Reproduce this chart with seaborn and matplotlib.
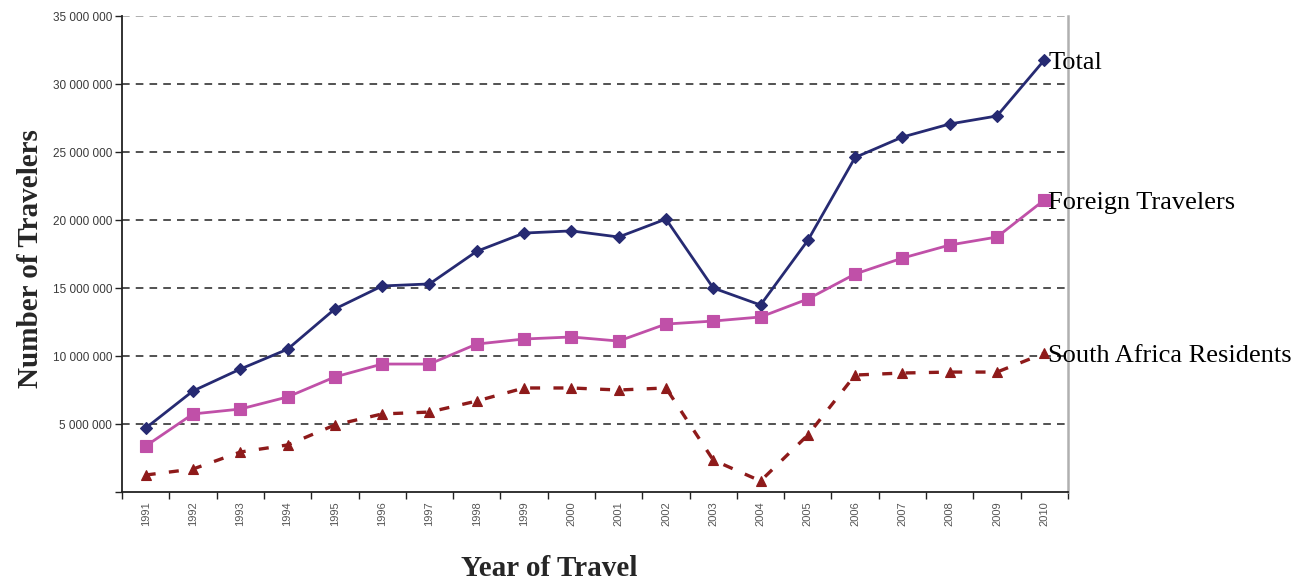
import matplotlib
matplotlib.use("Agg")
import matplotlib.pyplot as plt
import numpy as np
import pandas as pd
import seaborn as sns

years = [str(y) for y in range(1991, 2011)]
year_labels = ["1991", "1992", "1993", "1994", "1995", "1996", "1997", "1998", "1999", "2000",
               "2001", "2002", "2003", "2004", "2005", "2006", "2007", "2008", "2009", "2010"]

total = [4.70, 7.43, 9.04, 10.50, 13.46, 15.15, 15.30, 17.70, 19.04, 19.20,
         18.75, 20.07, 15.00, 13.75, 18.50, 24.60, 26.10, 27.06, 27.65, 31.76]
foreign = [3.38, 5.74, 6.10, 6.99, 8.46, 9.41, 9.41, 10.88, 11.25, 11.40,
           11.10, 12.35, 12.57, 12.87, 14.19, 16.03, 17.20, 18.16, 18.75, 21.47]
residents = [1.25, 1.69, 2.94, 3.46, 4.93, 5.74, 5.88, 6.69, 7.65, 7.65,
             7.50, 7.65, 2.35, 0.81, 4.19, 8.60, 8.75, 8.82, 8.82, 10.20]

series_names = ["Total", "Foreign Travelers", "South Africa Residents"]
y_ticks = [0, 5, 10, 15, 20, 25, 30, 35]
y_tick_labels = ["", "5 000 000", "10 000 000", "15 000 000", "20 000 000",
                 "25 000 000", "30 000 000", "35 000 000"]

sns.set_theme(style="white")
plt.rcParams["font.family"] = ["Liberation Sans", "DejaVu Sans"]

pos = np.arange(len(years))
df = pd.DataFrame({
    "pos": np.concatenate([pos, pos, pos]),
    "value": np.concatenate([np.array(total), np.array(foreign), np.array(residents)]) * 1e6,
    "series": np.repeat(series_names, len(years)),
})

fig = plt.figure(figsize=(13.11, 5.84), dpi=100)
ax = fig.add_axes([0.0931, 0.1575, 0.7215, 0.8151])

palette = {"Total": "#262a72", "Foreign Travelers": "#c050a8", "South Africa Residents": "#8e1a1a"}
markers = {"Total": "D", "Foreign Travelers": "s", "South Africa Residents": "^"}
dashes = {"Total": "", "Foreign Travelers": "", "South Africa Residents": (3, 4)}
sizes = {"Total": 6, "Foreign Travelers": 8.5, "South Africa Residents": 7}
widths = {"Total": 2.0, "Foreign Travelers": 2.0, "South Africa Residents": 2.4}

# horizontal dashed grid
for t in y_ticks[1:]:
    ax.axhline(t * 1e6, color="#999999" if t == 35 else "#222222", lw=1.1,
               ls=(0, (5, 4)), zorder=1)

for name in series_names:
    sub = df[df["series"] == name]
    sns.lineplot(data=sub, x="pos", y="value", ax=ax, color=palette[name],
                 marker=markers[name], markersize=sizes[name],
                 markeredgecolor=palette[name], markeredgewidth=0.8,
                 dashes=False, linewidth=widths[name],
                 linestyle="-" if dashes[name] == "" else (0, dashes[name]),
                 legend=False, zorder=3)
    ax.text(sub["pos"].iloc[-1] + 0.08, sub["value"].iloc[-1], name,
            fontsize=19, family=["Liberation Serif", "DejaVu Serif"],
            va="center_baseline", ha="left", color="black", zorder=4, clip_on=False)

ax.set_xlim(-0.5, len(years) - 0.5)
ax.set_ylim(0, 35e6)
ax.set_yticks([t * 1e6 for t in y_ticks])
ax.set_yticklabels(y_tick_labels, fontsize=8.5, color="#3a3a3a")
ax.set_xticks(pos)
ax.set_xticklabels(year_labels, rotation=90, fontsize=8, color="#555555")
ax.set_xticks(np.arange(-0.5, len(years)), minor=True)
ax.tick_params(axis="x", which="major", length=0, pad=7)
ax.tick_params(axis="x", which="minor", length=5, width=1, color="#222222", direction="out", bottom=True)
ax.tick_params(axis="y", which="major", length=5, width=1, color="#222222", direction="out", left=True, pad=2)

for side in ["left", "bottom"]:
    ax.spines[side].set_color("#222222")
    ax.spines[side].set_linewidth(1.3)
ax.spines["top"].set_visible(False)
ax.spines["right"].set_color("#b0b0b0")
ax.spines["right"].set_linewidth(1.8)

ax.set_xlabel("")
ax.set_ylabel("")
fig.text(0.0235, 0.558, "Number of Travelers", rotation=90, fontsize=21, fontweight="bold",
         family=["Liberation Serif", "DejaVu Serif"], ha="center", va="center")
fig.text(0.419, 0.027, "Year of Travel", fontsize=21, fontweight="bold",
         family=["Liberation Serif", "DejaVu Serif"], ha="center", va="center")

fig.savefig("out.png", dpi=100, facecolor="white")
